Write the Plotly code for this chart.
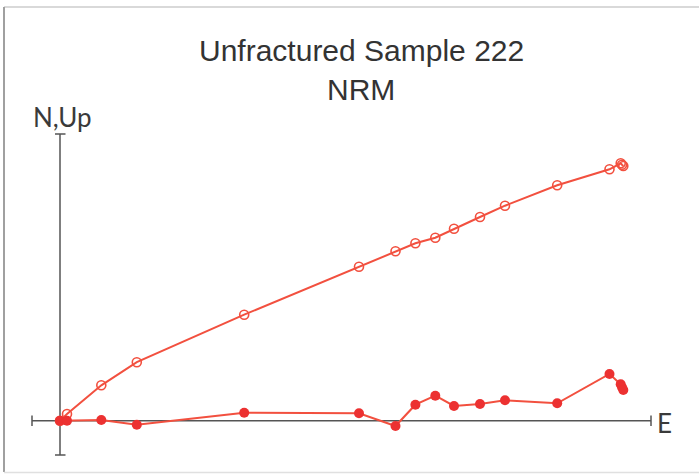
import plotly.graph_objects as go

# Zijderveld diagram data (arbitrary units)
east = [0.0, 0.07, 0.413, 0.768, 1.842, 2.99, 3.355, 3.554, 3.753, 3.94, 4.20, 4.45,
        4.972, 5.495, 5.607, 5.62, 5.633]
up = [0.0, 0.067, 0.354, 0.585, 1.06, 1.54, 1.694, 1.774, 1.83, 1.92, 2.037, 2.15,
      2.354, 2.514, 2.574, 2.56, 2.547]
north = [0.0, 0.0, 0.007, -0.04, 0.08, 0.074, -0.053, 0.16, 0.25, 0.147, 0.167, 0.204,
         0.174, 0.467, 0.364, 0.334, 0.307]

title_lines = ["Unfractured Sample 222", "NRM"]
x_label = "E"
y_label = "N,Up"

W, H = 699, 475
X0, Y0, SC = 60.0, 420.7, 100.0  # pixel position of origin and scale
xr = [(0 - X0) / SC, (W - X0) / SC]
yr = [(Y0 - H) / SC, (Y0 - 0) / SC]

def px(x):
    return (x - X0) / SC

def py(y):
    return (Y0 - y) / SC

RED_LINE = "#f2503f"
RED = "#ec3131"
AX = "#555555"

fig = go.Figure()
fig.add_trace(go.Scatter(
    x=east, y=up, mode="lines+markers",
    line=dict(color=RED_LINE, width=2),
    marker=dict(symbol="circle-open", size=9, color=RED_LINE, line=dict(width=1.6, color=RED_LINE)),
    showlegend=False, hoverinfo="skip"))
fig.add_trace(go.Scatter(
    x=east, y=north, mode="lines+markers",
    line=dict(color=RED_LINE, width=2),
    marker=dict(symbol="circle", size=10, color=RED),
    showlegend=False, hoverinfo="skip"))

shapes = []
ax_line = dict(color=AX, width=1.5)
# horizontal axis
shapes.append(dict(type="line", xref="x", yref="y", x0=px(32), x1=px(651), y0=0, y1=0, line=ax_line, layer="below"))
shapes.append(dict(type="line", xref="x", yref="y", x0=px(32), x1=px(32), y0=py(415.5), y1=py(426), line=ax_line, layer="below"))
shapes.append(dict(type="line", xref="x", yref="y", x0=px(651), x1=px(651), y0=py(415.5), y1=py(426), line=ax_line, layer="below"))
# vertical axis
shapes.append(dict(type="line", xref="x", yref="y", x0=0, x1=0, y0=py(134), y1=py(455), line=ax_line, layer="below"))
shapes.append(dict(type="line", xref="x", yref="y", x0=px(55), x1=px(65.5), y0=py(134), y1=py(134), line=ax_line, layer="below"))
shapes.append(dict(type="line", xref="x", yref="y", x0=px(55), x1=px(65.5), y0=py(455), y1=py(455), line=ax_line, layer="below"))
# frame lines
shapes.append(dict(type="line", xref="paper", yref="paper", x0=4/W, x1=1, y0=1-7/H, y1=1-7/H, line=dict(color="#cccccc", width=1.5)))
shapes.append(dict(type="line", xref="paper", yref="paper", x0=4/W, x1=4/W, y0=1-7/H, y1=1-472/H, line=dict(color="#a0a0a0", width=2)))
shapes.append(dict(type="line", xref="paper", yref="paper", x0=4/W, x1=1, y0=1-472.5/H, y1=1-472.5/H, line=dict(color="#e0e0e0", width=1.5)))

title_font = dict(family="Liberation Sans Narrow, Arial Narrow, Liberation Sans", size=30, color="#333333")
label_font = dict(family="Lato", size=26, color="#3a3a3a")
annotations = [
    dict(text=title_lines[0], xref="paper", yref="paper", x=361/W, y=1-51/H, xanchor="center", yanchor="middle",
         showarrow=False, font=title_font),
    dict(text=title_lines[1], xref="paper", yref="paper", x=361/W, y=1-89/H, xanchor="center", yanchor="middle",
         showarrow=False, font=title_font),
    dict(text=y_label, xref="x", yref="y", x=px(31), y=py(117), xanchor="left", yanchor="middle",
         showarrow=False, font=label_font),
    dict(text=x_label, xref="x", yref="y", x=px(655), y=py(423), xanchor="left", yanchor="middle",
         showarrow=False, font=label_font),
]

fig.update_layout(
    width=W, height=H, autosize=False,
    margin=dict(l=0, r=0, t=0, b=0, pad=0),
    paper_bgcolor="white", plot_bgcolor="white",
    xaxis=dict(range=xr, visible=False, fixedrange=True),
    yaxis=dict(range=yr, visible=False, fixedrange=True),
    shapes=shapes, annotations=annotations,
)

fig.write_html("out.html", config={"displayModeBar": False, "staticPlot": True},
               post_script="document.body.style.margin='0';document.body.style.overflow='hidden';")
